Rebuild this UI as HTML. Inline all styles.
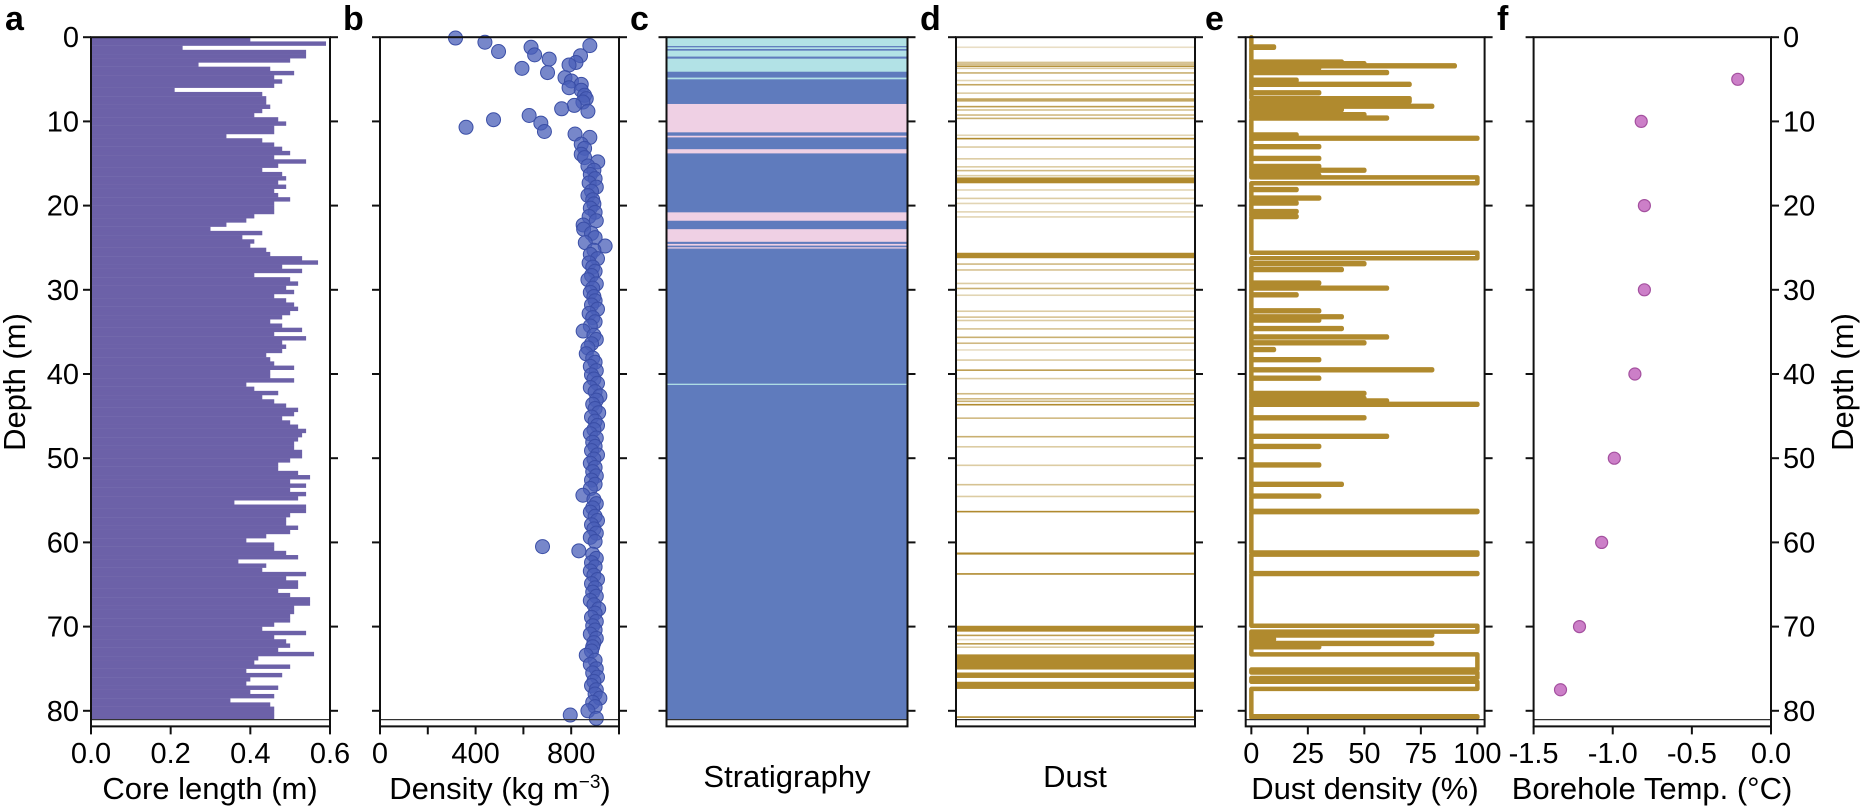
<!DOCTYPE html>
<html><head><meta charset="utf-8"><style>
html,body{margin:0;padding:0;background:#fff;}
svg{display:block;font-family:"Liberation Sans",Arial,sans-serif;}
</style></head><body>
<svg id="fig" width="1863" height="811" viewBox="0 0 1863 811" xmlns="http://www.w3.org/2000/svg"></svg>
<script>
// ---------- data ----------
const coreStep = 0.5;
const coreLength = [0.40,0.59,0.23,0.54,0.54,0.50,0.27,0.45,0.51,0.46,0.48,0.46,0.21,0.43,0.44,0.44,0.45,0.43,0.41,0.47,
0.49,0.46,0.46,0.34,0.43,0.46,0.48,0.50,0.46,0.54,0.47,0.43,0.48,0.49,0.47,0.49,0.46,0.47,0.50,0.46,
0.46,0.46,0.41,0.39,0.34,0.30,0.43,0.38,0.41,0.40,0.44,0.45,0.53,0.57,0.48,0.53,0.41,0.50,0.52,0.49,
0.51,0.46,0.49,0.51,0.52,0.50,0.48,0.45,0.48,0.53,0.46,0.54,0.48,0.49,0.48,0.44,0.45,0.46,0.51,0.45,
0.45,0.51,0.39,0.41,0.47,0.43,0.46,0.49,0.52,0.51,0.48,0.50,0.52,0.54,0.53,0.52,0.51,0.51,0.53,0.53,
0.50,0.47,0.47,0.52,0.55,0.50,0.54,0.50,0.54,0.52,0.36,0.54,0.54,0.50,0.49,0.49,0.52,0.50,0.44,0.39,
0.46,0.46,0.49,0.52,0.37,0.44,0.43,0.54,0.49,0.52,0.52,0.47,0.50,0.55,0.55,0.51,0.51,0.50,0.50,0.46,
0.43,0.54,0.46,0.49,0.50,0.47,0.56,0.42,0.41,0.50,0.39,0.48,0.40,0.39,0.47,0.40,0.46,0.35,0.45,0.46,
0.46,0.46];

const densDepth = [0.1,0.6,1.0,1.2,1.7,2.1,2.2,2.6,3.0,3.3,3.7,4.2,4.8,5.2,5.6,6.0,6.3,6.9,7.3,7.7,8.1,8.5,8.8,9.3,9.8,10.2,10.7,11.2,11.5,11.9,
12.7,13.2,13.9,14.3,14.8,15.3,15.8,16.3,16.8,17.3,17.8,18.3,18.8,19.3,19.8,20.3,20.8,21.3,21.8,22.3,22.8,23.3,23.8,24.4,24.8,25.3,25.8,26.3,26.8,27.3,
27.8,28.3,28.8,29.3,29.8,30.3,30.8,31.3,31.8,32.3,32.8,33.3,33.8,34.3,34.9,35.4,35.9,36.4,36.9,37.6,38.1,38.6,39.1,39.6,40.1,40.6,41.1,41.6,42.1,42.6,
43.1,43.6,44.1,44.6,45.1,45.6,46.1,46.6,47.1,47.6,48.1,48.6,49.1,49.6,50.1,50.6,51.1,51.6,52.1,52.6,53.1,53.6,54.4,54.9,55.4,55.9,56.4,56.9,57.4,57.9,
58.4,58.9,59.4,59.9,60.5,61.0,61.4,61.9,62.4,62.9,63.4,63.9,64.4,64.9,65.4,65.9,66.4,66.9,67.4,67.9,68.4,68.9,69.4,69.9,70.4,70.9,71.4,71.9,72.4,72.9,
73.4,74.0,74.5,75.0,75.5,76.0,76.5,77.0,77.5,78.0,78.5,79.0,79.5,80.0,80.5,80.9];
const densValue = [316,439,878,632,496,647,839,708,820,791,594,701,774,801,842,791,842,856,863,849,813,760,870,624,475,673,360,688,816,878,
842,856,842,856,911,870,895,880,900,875,905,885,870,890,895,880,900,875,905,850,852,885,900,859,942,895,880,910,875,890,
900,885,870,905,890,880,895,900,885,910,875,890,900,880,850,895,905,885,870,863,890,900,880,905,885,895,910,880,900,920,
905,890,900,915,885,900,910,895,880,905,890,900,885,910,895,880,900,890,905,885,900,880,849,895,905,890,880,900,910,885,
895,905,880,900,680,832,890,905,885,900,880,895,910,885,900,890,905,880,895,915,900,885,905,890,900,880,905,895,890,885,
863,900,880,905,890,910,895,885,905,900,920,890,900,870,796,905];

const strataTop    = [0.0, 1.05, 1.2, 1.4, 1.6, 2.3, 2.55, 4.1, 4.8, 5.0, 7.93, 11.3, 11.7, 11.9, 13.3, 13.8, 20.8, 21.8, 22.8, 24.3, 24.55, 24.75, 24.95, 25.1, 41.15, 41.3];
const strataBottom = [1.05, 1.2, 1.4, 1.6, 2.3, 2.55, 4.1, 4.8, 5.0, 7.93, 11.3, 11.7, 11.9, 13.3, 13.8, 20.8, 21.8, 22.8, 24.3, 24.55, 24.75, 24.95, 25.1, 41.15, 41.3, 81.85];
const strataType   = ["firn","ice","firn","ice","firn","ice","firn","ice","firn","ice","dusty","ice","dusty","ice","dusty","ice","dusty","ice","dusty","ice","dusty","ice","dusty","ice","firn","ice"];

const dustTop = [1.1,2.9,3.1,3.35,3.6,4.15,5.05,5.55,6.55,7.25,8.15,8.55,9.15,9.55,11.55,11.95,12.95,14.35,15.3,15.75,16.35,16.65,18.05,19.05,19.65,20.65,21.25,25.6,26.85,27.55,
29.15,29.75,30.55,32.45,33.15,33.55,34.55,35.55,36.25,37.05,38.25,39.45,40.45,42.25,42.85,43.15,43.55,45.15,47.35,48.55,50.75,53.05,54.45,56.25,61.2,63.65,69.9,70.95,71.45,71.95,
72.35,73.3,75.45,76.55,80.65];
const dustBottom = [1.25,3.0,3.2,3.45,3.7,4.25,5.15,5.65,6.65,7.65,8.25,8.65,9.25,9.65,11.65,12.05,13.05,14.45,15.4,15.85,16.45,17.35,18.15,19.15,19.75,20.75,21.35,26.25,26.95,27.65,
29.25,29.85,30.65,32.55,33.25,33.65,34.65,35.65,36.35,37.15,38.35,39.55,40.55,42.35,43.0,43.25,43.65,45.25,47.45,48.65,50.85,53.15,54.55,56.4,61.45,63.75,70.6,71.05,71.55,72.05,
72.45,75.1,76.1,77.4,80.8];
const dustValue = [10,40,50,90,30,60,20,70,30,70,80,40,50,60,20,100,30,30,30,50,30,100,20,30,20,20,20,100,50,40,
30,60,20,30,40,30,40,60,50,10,30,80,30,50,50,60,100,50,60,30,30,40,30,100,100,100,100,80,10,80,
30,100,100,100,100];

const tempDepth = [5,10,20,30,40,50,60,70,77.5];
const tempValue = [-0.21,-0.82,-0.80,-0.80,-0.86,-0.99,-1.07,-1.21,-1.33];

const depthTicks = [0,10,20,30,40,50,60,70,80];
const coreTicks = [0,0.2,0.4,0.6];
const coreTickLabels = ["0.0","0.2","0.4","0.6"];
const densTicks = [0,200,400,600,800,1000];
const densTickLabels = ["0","","400","","800",""];
const dustTicks = [0,25,50,75,100];
const dustTickLabels = ["0","25","50","75","100"];
const tempTicks = [-1.5,-1.0,-0.5,0.0];
const tempTickLabels = ["-1.5","-1.0","-0.5","0.0"];

// ---------- layout ----------
const NS = "http://www.w3.org/2000/svg";
const svg = document.getElementById('fig');
const Y0 = 37.2, PXM = 8.42, DMAX = 81.85;
const yS = d => Y0 + d * PXM;
const YB = yS(DMAX);
function mk(tag, attrs, parent) {
  const e = document.createElementNS(NS, tag);
  for (const k in attrs) e.setAttribute(k, attrs[k]);
  (parent || svg).appendChild(e);
  return e;
}
function lin(d0, d1, r0, r1) { return v => r0 + (v - d0) / (d1 - d0) * (r1 - r0); }

const panels = {
  a: {x0: 91, x1: 330},
  b: {x0: 380, x1: 619},
  c: {x0: 666.5, x1: 907.5},
  d: {x0: 956, x1: 1195},
  e: {x0: 1245.7, x1: 1484.6},
  f: {x0: 1533.6, x1: 1771}
};
const xA = lin(0, 0.6, panels.a.x0, panels.a.x1);
const xB = lin(0, 1000, panels.b.x0, panels.b.x1);
const xE = lin(-2.5, 103.2, panels.e.x0, panels.e.x1);
const xF = lin(-1.5, 0, panels.f.x0, panels.f.x1);

// ---------- panel a bars ----------
const gA = mk('g', {});


coreLength.forEach((v, i) => {
  const d0 = i * coreStep, d1 = Math.min((i + 1) * coreStep, 81.05);
  const r = mk('rect', {x: xA(0), y: yS(d0), width: xA(v) - xA(0), height: yS(d1) - yS(d0) + 0.2, fill: '#6c61a8'}, gA);
  
  
});

// ---------- panel b points ----------
const gB = mk('g', {});


densDepth.forEach((d, i) => {
  const c = mk('circle', {cx: xB(densValue[i]), cy: yS(d), r: 7, fill: '#4a5fb8', 'fill-opacity': 0.75, stroke: '#3a4ea6', 'stroke-width': 1}, gB);
  
  
});

// ---------- panel c strata ----------
const strataColor = {firn: '#b2e2e6', ice: '#5f7bbd', dusty: '#efd0e4'};
const gC = mk('g', {});


strataTop.forEach((t, i) => {
  const b = Math.min(strataBottom[i], 81.05);
  const r = mk('rect', {x: panels.c.x0, y: yS(t), width: panels.c.x1 - panels.c.x0, height: yS(b) - yS(t) + 0.3, fill: strataColor[strataType[i]]}, gC);
  
  
});

// ---------- panel d dust layers ----------
const gD = mk('g', {});


dustTop.forEach((t, i) => {
  const h = Math.max(yS(dustBottom[i]) - yS(t), 1.6);
  const r = mk('rect', {x: panels.d.x0, y: yS(t), width: panels.d.x1 - panels.d.x0, height: h, fill: '#b08a2e', 'fill-opacity': 0.2 + 0.8 * dustValue[i] / 100}, gD);
  
  
});

// ---------- panel e dust density ----------
let dpath = 'M' + xE(0) + ',' + yS(0);
dustTop.forEach((t, i) => {
  const v = dustValue[i];
  dpath += ' L' + xE(0) + ',' + yS(t) + ' L' + xE(v) + ',' + yS(t) + ' L' + xE(v) + ',' + yS(dustBottom[i]) + ' L' + xE(0) + ',' + yS(dustBottom[i]);
});
const pE = mk('path', {d: dpath, fill: 'none', stroke: '#b08a2e', 'stroke-width': 4.5, 'stroke-linejoin': 'round', 'stroke-linecap': 'round'});



// ---------- panel f temps ----------
const gF = mk('g', {});


tempDepth.forEach((d, i) => {
  const c = mk('circle', {cx: xF(tempValue[i]), cy: yS(d), r: 6, fill: '#cc7fc8', stroke: '#a4509f', 'stroke-width': 1.2}, gF);
  
  
});

// ---------- frames, ticks ----------
const names = {a: 'core-length-panel', b: 'density-panel', c: 'stratigraphy-panel', d: 'dust-panel', e: 'dust-density-panel', f: 'borehole-temp-panel'};
const letterX = {a: 5, b: 343, c: 630, d: 920, e: 1205, f: 1497};
Object.keys(panels).forEach(k => {
  const p = panels[k];
  const g = mk('g', {});
  
  
  mk('line', {x1: p.x0, x2: p.x1, y1: yS(81.05), y2: yS(81.05), stroke: '#333', 'stroke-width': 1.3}, g);
  mk('rect', {x: p.x0, y: Y0, width: p.x1 - p.x0, height: YB - Y0, fill: 'none', stroke: '#111', 'stroke-width': 2}, g);
  depthTicks.forEach(d => {
    mk('line', {x1: p.x0 - 8, x2: p.x0, y1: yS(d), y2: yS(d), stroke: '#111', 'stroke-width': 2}, g);
    mk('line', {x1: p.x1, x2: p.x1 + 8, y1: yS(d), y2: yS(d), stroke: '#111', 'stroke-width': 2}, g);
  });
  const t = mk('text', {x: letterX[k], y: 30, 'font-size': 34, 'font-weight': 'bold', fill: '#000'});
  
  
  t.textContent = k;
});

function txt(x, y, s, attrs, name) {
  const t = mk('text', Object.assign({x: x, y: y, 'font-size': 29, fill: '#000'}, attrs || {}));
  
  
  t.textContent = s;
  return t;
}
// left & right depth tick labels
depthTicks.forEach(d => {
  txt(79, yS(d) + 10, String(d), {'text-anchor': 'end'}, 'left-depth-tick-label');
  txt(1783, yS(d) + 10, String(d), {'text-anchor': 'start'}, 'right-depth-tick-label');
});
function xticks(vals, labels, sc, name) {
  vals.forEach((v, i) => {
    mk('line', {x1: sc(v), x2: sc(v), y1: YB, y2: YB + 8, stroke: '#111', 'stroke-width': 2});
    if (labels[i]) txt(sc(v), 763, labels[i], {'text-anchor': 'middle'}, name);
  });
}
xticks(coreTicks, coreTickLabels, xA, 'core-length-tick-label');
xticks(densTicks, densTickLabels, xB, 'density-tick-label');
xticks(dustTicks, dustTickLabels, xE, 'dust-density-tick-label');
xticks(tempTicks, tempTickLabels, xF, 'temp-tick-label');

// axis titles
txt(210, 799, 'Core length (m)', {'text-anchor': 'middle', 'font-size': 31}, 'x-axis-title-core-length');
const dt = txt(500, 799, 'Density (kg m', {'text-anchor': 'middle', 'font-size': 31}, 'x-axis-title-density');
const sup = mk('tspan', {dy: -11, 'font-size': 19}, dt); sup.textContent = '\u22123';
const cl = mk('tspan', {dy: 11}, dt); cl.textContent = ')';
txt(787, 787, 'Stratigraphy', {'text-anchor': 'middle', 'font-size': 31}, 'x-axis-title-stratigraphy');
txt(1075, 787, 'Dust', {'text-anchor': 'middle', 'font-size': 31}, 'x-axis-title-dust');
txt(1365, 799, 'Dust density (%)', {'text-anchor': 'middle', 'font-size': 31}, 'x-axis-title-dust-density');
txt(1652, 799, 'Borehole Temp. (\u00B0C)', {'text-anchor': 'middle', 'font-size': 31}, 'x-axis-title-borehole-temp');
txt(0, 0, 'Depth (m)', {'text-anchor': 'middle', 'font-size': 31, transform: 'translate(25,382) rotate(-90)'}, 'y-axis-title-left');
txt(0, 0, 'Depth (m)', {'text-anchor': 'middle', 'font-size': 31, transform: 'translate(1853,382) rotate(-90)'}, 'y-axis-title-right');
</script>
</body></html>
